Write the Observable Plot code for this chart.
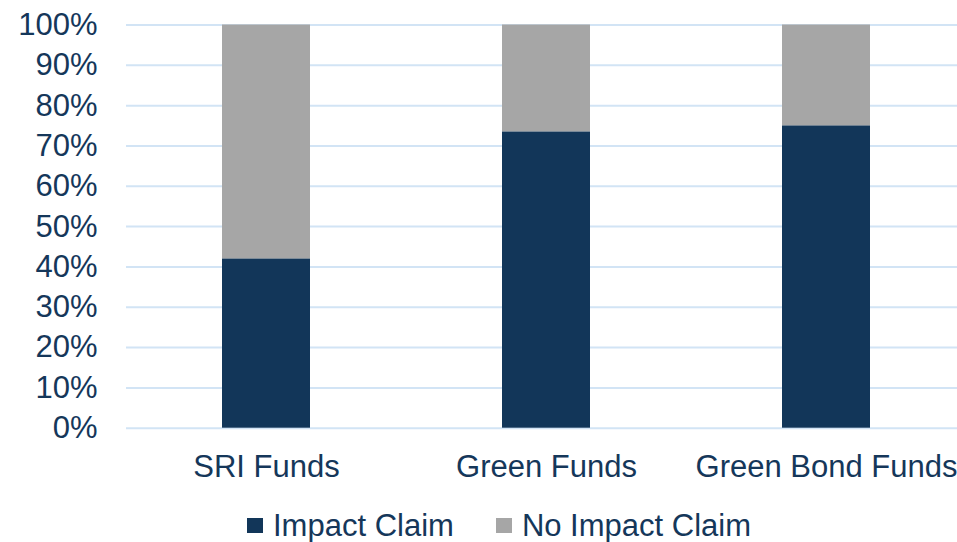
<!DOCTYPE html>
<html>
<head>
<meta charset="utf-8">
<script src="https://cdn.jsdelivr.net/npm/d3@7"></script>
<script src="https://cdn.jsdelivr.net/npm/@observablehq/plot@0.6"></script>
<style>
  html, body { margin: 0; padding: 0; background: #fff; overflow: hidden; }
  body { width: 957px; height: 542px; position: relative; font-family: "Liberation Sans", Arial, sans-serif; }
  #chart { position: absolute; left: 0; top: 0; }
  #legend { position: absolute; left: 247px; top: 505px; height: 40px; display: flex; align-items: center;
            font-size: 31px; line-height: 1; color: #15375a; white-space: nowrap; }
  .item { display: flex; align-items: center; }
  .sw { width: 16px; height: 15px; margin-right: 10px; }
</style>
</head>
<body>
<div id="chart"></div>
<div id="legend"></div>
<script>
const categories = ["SRI Funds", "Green Funds", "Green Bond Funds"];
const seriesNames = ["Impact Claim", "No Impact Claim"];
const impactClaim = [42, 73.5, 75];
const noImpactClaim = [58, 26.5, 25];
const seriesColors = ["#123659", "#a6a6a6"];
const yTicks = [0, 10, 20, 30, 40, 50, 60, 70, 80, 90, 100];

const textColor = "#15375a";

const rows = [];
categories.forEach((c, i) => rows.push({category: c, series: seriesNames[0], value: impactClaim[i]}));
categories.forEach((c, i) => rows.push({category: c, series: seriesNames[1], value: noImpactClaim[i]}));

const chart = Plot.plot({
  width: 957,
  height: 505,
  marginTop: 24.5,
  marginBottom: 77.3,
  marginLeft: 126,
  marginRight: -9,
  style: {fontFamily: "'Liberation Sans', Arial, sans-serif", color: textColor, background: "#fff", overflow: "visible"},
  x: {domain: categories, paddingInner: 0.686, paddingOuter: 0.343, label: null},
  y: {domain: [0, 100], label: null},
  color: {domain: seriesNames, range: seriesColors},
  marks: [
    Plot.gridY(yTicks, {stroke: "#d2e4f5", strokeOpacity: 1, strokeWidth: 2}),
    Plot.barY(rows, {x: "category", y: "value", fill: "series"}),
    Plot.axisY(yTicks, {tickSize: 0, tickPadding: 29, fontSize: 31, tickFormat: d => d + "%", label: null, fill: textColor}),
    Plot.axisX({tickSize: 0, tickPadding: 27, fontSize: 31, label: null, fill: textColor})
  ]
});
document.getElementById("chart").appendChild(chart);

const legend = document.getElementById("legend");
seriesNames.forEach((name, i) => {
  const item = document.createElement("div");
  item.className = "item";
  if (i > 0) item.style.marginLeft = "42px";
  const sw = document.createElement("span");
  sw.className = "sw";
  sw.style.background = seriesColors[i];
  const label = document.createElement("span");
  label.textContent = name;
  item.appendChild(sw);
  item.appendChild(label);
  legend.appendChild(item);
});
</script>
</body>
</html>
